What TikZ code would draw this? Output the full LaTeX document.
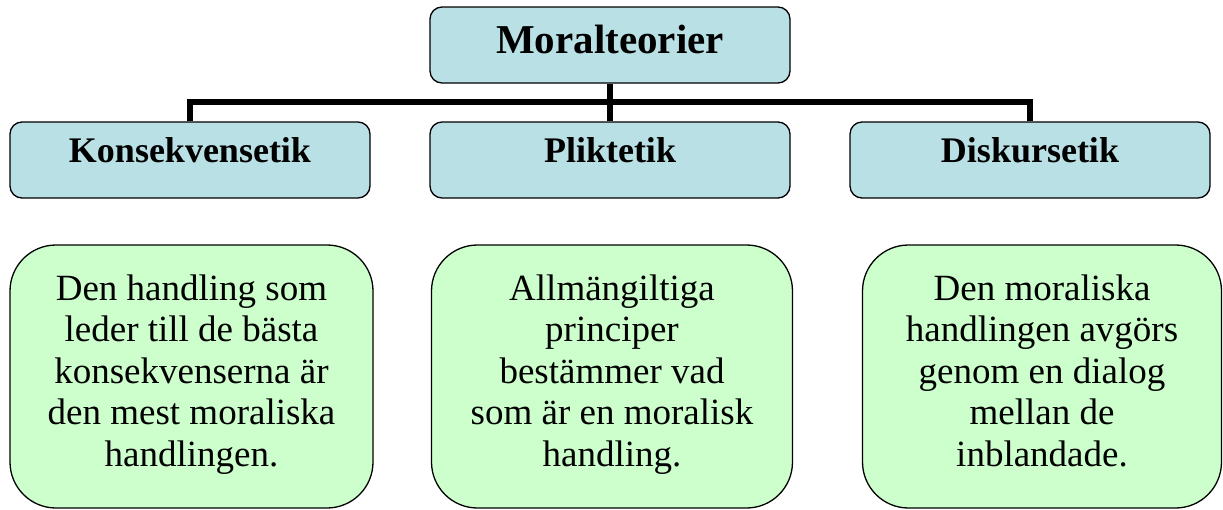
\documentclass[tikz,border=0pt]{standalone}
\usepackage{fontspec}
\setmainfont{Liberation Serif}
\usetikzlibrary{backgrounds}
\definecolor{topfill}{RGB}{185,224,228}
\definecolor{botfill}{RGB}{204,255,204}
\tikzset{
  topbox/.style={draw=black, line width=1.3pt, fill=topfill, rounded corners=12pt,
    minimum width=360pt, minimum height=76pt, inner sep=0pt},
  toptext/.style={anchor=base, inner sep=0pt, font=\fontsize{36}{40}\selectfont\bfseries},
  botbox/.style={draw=black, line width=1.3pt, fill=botfill, rounded corners=46pt,
    minimum height=263pt, inner sep=0pt, align=center,
    font=\fontsize{37}{41.5}\selectfont},
  conn/.style={line width=6pt, line join=miter, line cap=butt}
}
\begin{document}
\begin{tikzpicture}[x=1pt,y=-1pt]
\useasboundingbox (0,0) rectangle (1223,509);
\node[topbox] (m) at (610,45) {};
\node[topbox] (k) at (190,160) {};
\node[topbox] (p) at (610,160) {};
\node[topbox] (d) at (1030,160) {};
\coordinate (bar) at (610,102);
\begin{scope}[on background layer]
\draw[conn] (m.south) -- (p.north);
\draw[conn] (k.north) -- (k.north |- bar) -- (d.north |- bar) -- (d.north);
\end{scope}
\node[toptext, font=\fontsize{41}{45}\selectfont\bfseries] (mt) at (610,53) {Moralteorier};
\node[toptext] (kt) at (190,162) {Konsekvensetik};
\node[toptext] (pt) at (610,162) {Pliktetik};
\node[toptext] (dt) at (1030,162) {Diskursetik};
\node[botbox, minimum width=363pt] (kb) at (191.5,376.5) {Den handling som\\leder till de bästa\\konsekvenserna är\\den mest moraliska\\handlingen.\strut};
\node[botbox, minimum width=361pt] (pb) at (612,376.5) {Allmängiltiga\\principer\\bestämmer vad\\som är en moralisk\\handling.\strut};
\node[botbox, minimum width=359pt] (db) at (1042,376.5) {Den moraliska\\handlingen avgörs\\genom en dialog\\mellan de\\inblandade.\strut};
\end{tikzpicture}
\end{document}
